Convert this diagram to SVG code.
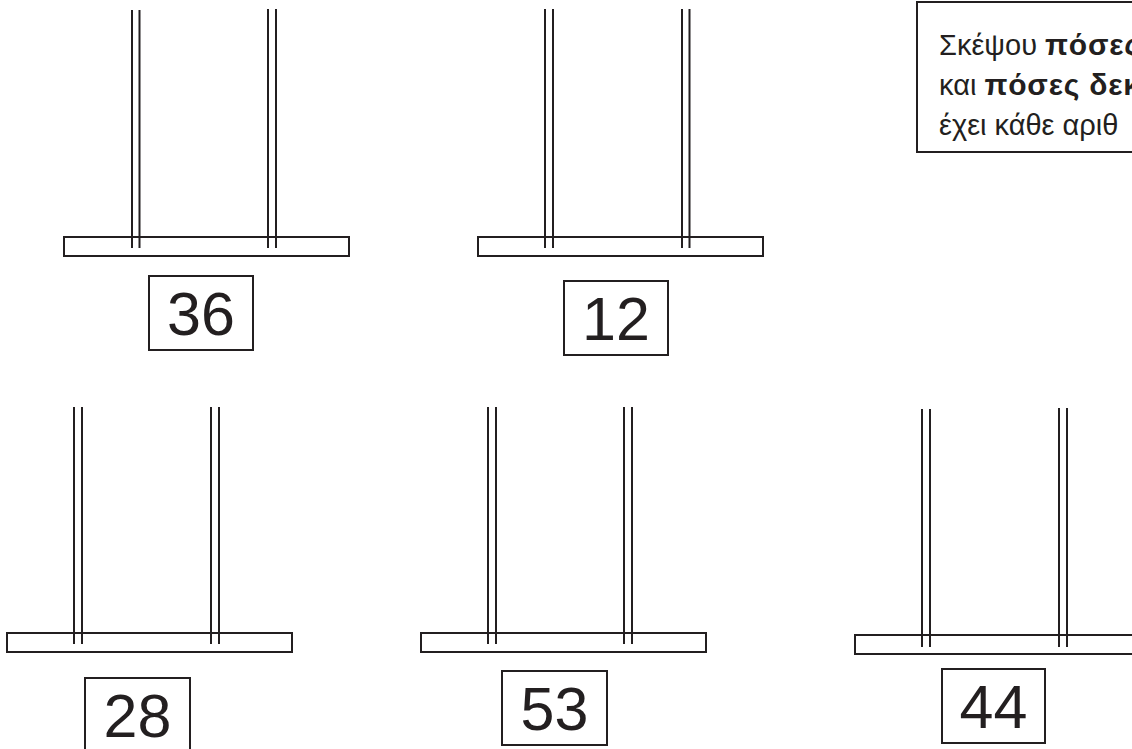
<svg xmlns="http://www.w3.org/2000/svg" width="1132" height="749" viewBox="0 0 1132 749">
<style>
.base{fill:#fff;stroke:#231f20;stroke-width:2}
.rod{stroke:#231f20;stroke-width:2;fill:none}
.box{fill:#fff;stroke:#231f20;stroke-width:2}
.num{font-family:"Liberation Sans",Arial,sans-serif;font-size:61px;fill:#231f20;text-anchor:middle}
.hint{font-family:"Liberation Sans",Arial,sans-serif;font-size:29px;fill:#231f20}
.b{font-weight:bold;font-size:30px;letter-spacing:0.8px}
</style>
<rect width="1132" height="749" fill="#fff"/>
<g id="abacus-36">
<rect class="base" x="64" y="237" width="285" height="19"/>
<path class="rod" d="M132 10V248M139.5 10V248M268 9V248M276 9V248"/>
<rect class="box" x="149" y="276" width="104" height="74"/>
<text class="num" x="201" y="335">36</text>
</g>
<g id="abacus-12">
<rect class="base" x="478" y="237" width="285" height="19"/>
<path class="rod" d="M545 9V248M553 9V248M682 9V248M689.5 9V248"/>
<rect class="box" x="564" y="281" width="104" height="74"/>
<text class="num" x="616" y="340">12</text>
</g>
<g id="abacus-28">
<rect class="base" x="7" y="633" width="285" height="19"/>
<path class="rod" d="M74 407V644M82 407V644M211 407V644M219 407V644"/>
<rect class="box" x="85" y="678" width="105" height="74"/>
<text class="num" x="137.5" y="737">28</text>
</g>
<g id="abacus-53">
<rect class="base" x="421" y="633" width="285" height="19"/>
<path class="rod" d="M488 407V644M496 407V644M624 407V644M632 407V644"/>
<rect class="box" x="502" y="671" width="105" height="74"/>
<text class="num" x="554.5" y="730">53</text>
</g>
<g id="abacus-44">
<rect class="base" x="855" y="635" width="285" height="19"/>
<path class="rod" d="M922 409V647M930 409V647M1059 408V647M1067 408V647"/>
<rect class="box" x="942" y="669" width="103" height="74"/>
<text class="num" x="993.5" y="728">44</text>
</g>
<g id="hint">
<rect class="box" x="917" y="2" width="230" height="150"/>
<text class="hint" x="939" y="55">Σκέψου <tspan class="b">πόσες</tspan></text>
<text class="hint" x="939" y="95">και <tspan class="b">πόσες δεκ</tspan></text>
<text class="hint" x="939" y="135">έχει κάθε αριθ</text>
</g>
</svg>
